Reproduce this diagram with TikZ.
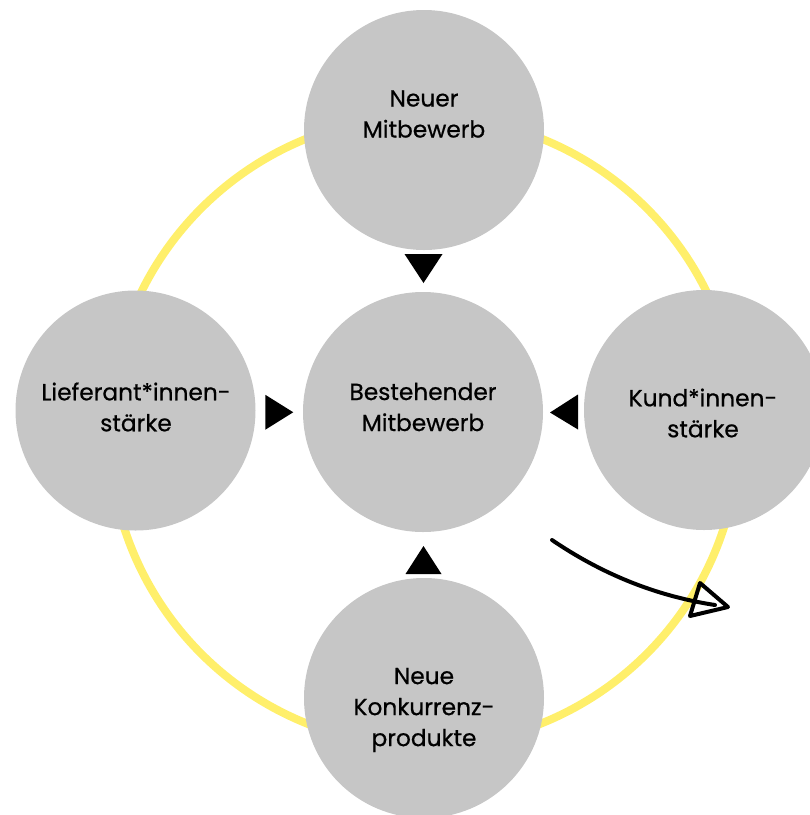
\documentclass[tikz,border=0pt]{standalone}
\usepackage{fontspec}
\setmainfont{Poppins}[FakeBold=0.6]
\usetikzlibrary{calc}
\definecolor{ringyellow}{RGB}{255,239,107}
\definecolor{circgray}{RGB}{198,198,198}
\begin{document}
\begin{tikzpicture}[x=1pt,y=-1pt,
  bubble/.style={circle, fill=circgray, draw=none, minimum size=240pt, inner sep=0pt},
  lbl/.style={align=center, inner sep=0pt, font=\fontsize{23.3}{31}\selectfont},
  tri/.style={fill=black},
  ring/.style={draw=ringyellow, line width=8pt},
  hand/.style={draw=black, line width=4pt, line cap=round, line join=round}]
\useasboundingbox (0,0) rectangle (810,815);
% yellow ring
\coordinate (rc) at (424,431);
\draw[ring] (rc) circle[radius=315];
% circles
\node[bubble] (top) at (424,130) {};
\node[bubble] (ctr) at (423,412) {};
\node[bubble] (lft) at (135.5,410.5) {};
\node[bubble] (rgt) at (704,410) {};
\node[bubble] (bot) at (424,698) {};
% labels
\node[lbl] (ltop) at (424,114) {Neuer\\Mitbewerb};
\node[lbl] (lctr) at (423,407) {Bestehender\\Mitbewerb};
\node[lbl] (llft) at (136,407) {Lieferant*innen-\\stärke};
\node[lbl] (lrgt) at (703,413) {Kund*innen-\\stärke};
\node[lbl] (lbot) at (424,710) {Neue\\Konkurrenz-\\produkte};
% triangles between circles
\coordinate (m1) at ($(top.south)!0.5!(ctr.north)$);
\coordinate (m2) at ($(ctr.south)!0.5!(bot.north)$);
\coordinate (m3) at ($(lft.east)!0.5!(ctr.west)$);
\coordinate (m4) at ($(ctr.east)!0.5!(rgt.west)$);
\fill[tri] ($(m1)+(-19,-17)$) -- ($(m1)+(19,-17)$) -- ($(m1)+(0,12)$) -- cycle;
\fill[tri] ($(m2)+(-18,19)$) -- ($(m2)+(18,19)$) -- ($(m2)+(0,-9)$) -- cycle;
\fill[tri] ($(m3)+(-14,-16.5)$) -- ($(m3)+(-14,18.5)$) -- ($(m3)+(14,1)$) -- cycle;
\fill[tri] ($(m4)+(14.5,-16.5)$) -- ($(m4)+(14.5,18.5)$) -- ($(m4)+(-13.5,1.5)$) -- cycle;
% hand-drawn curved arrow
\coordinate (as) at (552,540);
\coordinate (ae) at (715,605);
\draw[hand] (as) .. controls (602,574) and (656,596) .. (ae);
\coordinate (h1) at (700,583);
\coordinate (h2) at (728,607);
\coordinate (h3) at (690,616);
\draw[hand] (h1) -- (h2) -- (h3) -- cycle;
\end{tikzpicture}
\end{document}
